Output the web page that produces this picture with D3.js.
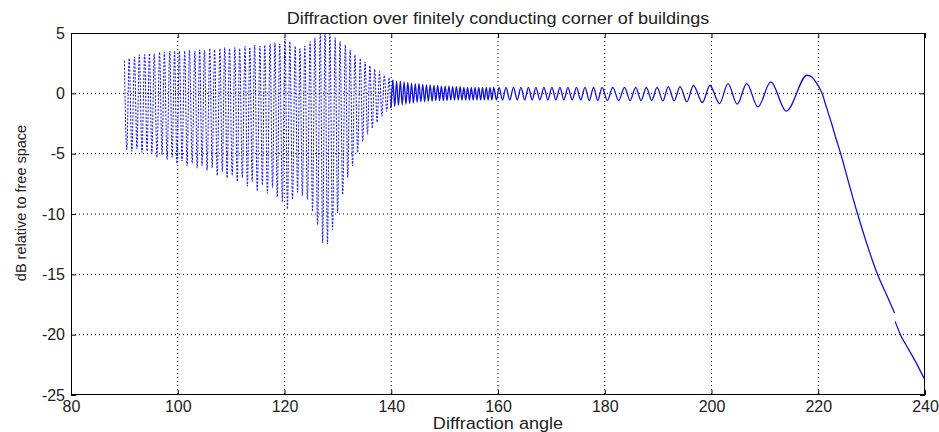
<!DOCTYPE html>
<html><head><meta charset="utf-8">
<script src="https://cdn.jsdelivr.net/npm/d3@7"></script>
<style>body{margin:0;background:#fff}</style>
</head><body><svg id="c" width="939" height="432"></svg>
<script>
// ---- data ----
const peakAngle = [90.0,90.9,91.9,92.8,93.8,94.7,95.6,96.6,97.5,98.5,99.4,100.3,101.3,102.2,103.2,104.1,105.0,106.0,106.9,107.9,108.8,109.7,110.7,111.6,112.6,113.5,114.4,115.4,116.3,117.3,118.2,119.1,120.1,121.0,122.0,122.9,123.8,124.8,125.7,126.7,127.6,128.5,129.5,130.4,131.4,132.3,133.2,134.2,135.1,136.0,136.9,137.8,138.7,139.6,
  140.3,141.0,141.7,142.4,143.1,143.8,144.5,145.2,145.9,146.6,147.3,148.0,148.7,149.4,150.1,150.8,151.5,152.2,152.9,153.6,154.3,155.0,155.7,156.4,157.1,157.8,158.5,159.2,
  160.2,161.5,162.9,164.3,165.7,167.1,168.6,170.1,171.6,173.1,174.7,176.3,177.9,179.5,181.5,183.7,185.8,187.8,189.8,191.9,194.1,196.6,199.7,203.1,206.6,211.1,217.9];
const peakDb = [2.7,2.9,3.0,3.2,3.2,3.3,3.3,3.4,3.4,3.5,3.5,3.5,3.5,3.6,3.5,3.6,3.6,3.7,3.6,3.7,3.8,3.7,3.8,3.7,3.9,3.8,4.0,3.9,4.0,4.1,4.2,4.1,4.5,4.3,3.9,3.7,3.9,4.3,4.6,4.9,5.0,4.9,4.6,4.3,4.0,3.6,3.2,2.9,2.6,2.3,2.0,1.8,1.5,1.3,
  1.1,1.0,1.0,0.95,0.9,0.85,0.8,0.8,0.75,0.7,0.7,0.65,0.65,0.6,0.6,0.6,0.55,0.55,0.55,0.5,0.5,0.5,0.5,0.5,0.5,0.5,0.5,0.5,
  0.5,0.5,0.5,0.5,0.5,0.5,0.5,0.5,0.5,0.5,0.5,0.5,0.5,0.5,0.5,0.5,0.5,0.5,0.5,0.55,0.55,0.65,0.65,0.8,0.8,0.95,1.5];
const troughAngle = [90.45,91.4,92.35,93.3,94.25,95.15,96.1,97.05,98.0,98.95,99.85,100.8,101.75,102.7,103.65,104.55,105.5,106.45,107.4,108.35,109.25,110.2,111.15,112.1,113.05,113.95,114.9,115.85,116.8,117.75,118.65,119.6,120.55,121.5,122.45,123.35,124.3,125.25,126.2,127.15,128.05,129.0,129.95,130.9,131.85,132.75,133.7,134.65,135.55,136.45,137.35,138.25,139.15,139.95,
  140.65,141.35,142.05,142.75,143.45,144.15,144.85,145.55,146.25,146.95,147.65,148.35,149.05,149.75,150.45,151.15,151.85,152.55,153.25,153.95,154.65,155.35,156.05,156.75,157.45,158.15,158.85,159.7,
  160.85,162.2,163.6,165.0,166.4,167.85,169.35,170.85,172.35,173.9,175.5,177.1,178.7,180.5,182.6,184.75,186.8,188.8,190.9,193.0,195.4,198.3,201.5,204.8,208.7,214.0];
const troughDb = [-4.7,-4.8,-4.6,-4.9,-4.8,-5.0,-5.3,-5.1,-5.5,-5.3,-5.8,-5.6,-6.0,-5.8,-6.2,-6.0,-6.4,-6.2,-6.8,-6.5,-7.0,-6.8,-7.3,-7.0,-7.7,-7.3,-8.1,-7.6,-8.3,-7.8,-8.6,-9.0,-9.6,-8.8,-8.2,-8.5,-8.8,-9.8,-10.9,-12.4,-12.5,-11.3,-9.9,-8.4,-7.0,-6.0,-4.9,-4.0,-3.4,-2.9,-2.4,-1.9,-1.5,-1.2,
  -1.1,-1.0,-0.95,-0.9,-0.85,-0.8,-0.75,-0.7,-0.7,-0.65,-0.65,-0.6,-0.6,-0.6,-0.6,-0.55,-0.55,-0.55,-0.55,-0.55,-0.55,-0.55,-0.55,-0.55,-0.55,-0.55,-0.55,-0.55,
  -0.55,-0.55,-0.55,-0.55,-0.55,-0.55,-0.55,-0.55,-0.55,-0.55,-0.55,-0.6,-0.6,-0.6,-0.6,-0.6,-0.6,-0.6,-0.62,-0.62,-0.7,-0.76,-0.85,-0.9,-1.13,-1.47];
const tailAngle = [218.8,219.6,220.7,221.5,222.5,223.3,224.2,225.7,227.3,229.2,231.1,232.8,234.3];
const tailDb = [1.35,0.9,0.0,-1.1,-2.5,-3.7,-5.0,-7.4,-9.9,-12.6,-15.0,-16.7,-18.2];
const tail2Angle = [234.4,235.4,236.9,238.3,239.8];
const tail2Db = [-18.9,-20.0,-21.2,-22.3,-23.6];
const xTickValues = [80,100,120,140,160,180,200,220,240];
const yTickValues = [-25,-20,-15,-10,-5,0,5];
const titleText = "Diffraction over finitely conducting corner of buildings";
const xLabelText = "Diffraction angle";
const yLabelText = "dB relative to free space";

// ---- layout ----
const W = 939, H = 432, m = {l:71, r:14, t:33, b:37};
const FONT = "'Liberation Sans', Arial, sans-serif";
const FS = 16, SX = 1.13;
const svg = d3.select("#c");
const x = d3.scaleLinear().domain([80,240]).range([m.l, W - m.r]);
const y = d3.scaleLinear().domain([-25,5]).range([H - m.b, m.t]);
const fmt = d => String(d);

// grid
const g = svg.append("g");
g.selectAll("line.vx").data(xTickValues.slice(1,-1)).join("line")
  .attr("x1", d => x(d)).attr("x2", d => x(d)).attr("y1", m.t).attr("y2", H - m.b)
  .attr("stroke", "#000").attr("stroke-width", 1).attr("stroke-dasharray", "1,3");
g.selectAll("line.hy").data(yTickValues.slice(1,-1)).join("line")
  .attr("y1", d => y(d)).attr("y2", d => y(d)).attr("x1", m.l).attr("x2", W - m.r)
  .attr("stroke", "#000").attr("stroke-width", 1).attr("stroke-dasharray", "1,3");

// data
const pts = peakAngle.map((a,i) => [a, peakDb[i]])
  .concat(troughAngle.map((a,i) => [a, troughDb[i]]))
  .concat(tailAngle.map((a,i) => [a, tailDb[i]]))
  .sort((p,q) => p[0] - q[0]);
const pts2 = tail2Angle.map((a,i) => [a, tail2Db[i]]);
const line = d3.line().x(d => x(d[0])).y(d => y(d[1])).curve(d3.curveMonotoneX);
const dense = pts.filter(p => p[0] <= 140.3);
const smooth = pts.filter(p => p[0] >= 139.95);
svg.append("clipPath").attr("id","pc").append("rect")
  .attr("x", m.l).attr("y", m.t - 1).attr("width", W - m.l - m.r).attr("height", H - m.t - m.b + 1);
const lg = svg.append("g").attr("clip-path", "url(#pc)");
lg.append("path").attr("d", line(dense)).attr("fill","none").attr("stroke","#0a0aff")
  .attr("stroke-width", 1).attr("stroke-dasharray", "2,1.5");
lg.append("path").attr("d", line(smooth)).attr("fill","none").attr("stroke","#1010e0").attr("stroke-width", 1.3);
lg.append("path").attr("d", line(pts2)).attr("fill","none").attr("stroke","#1010e0").attr("stroke-width", 1.3);

// axes
const styleAxis = sel => { sel.select(".domain").remove(); sel.selectAll("line").attr("stroke","#000");
  sel.selectAll("text").attr("font-family", FONT).attr("font-size", FS).attr("fill","#222"); };
svg.append("g").attr("transform", `translate(0,${H - m.b})`)
  .call(d3.axisBottom(x).tickValues(xTickValues).tickSizeInner(-5).tickSizeOuter(0).tickPadding(6).tickFormat(fmt)).call(styleAxis);
svg.append("g").attr("transform", `translate(0,${m.t})`)
  .call(d3.axisTop(x).tickValues(xTickValues).tickSizeInner(-5).tickSizeOuter(0).tickFormat("")).call(styleAxis);
svg.append("g").attr("transform", `translate(${m.l},0)`)
  .call(d3.axisLeft(y).tickValues(yTickValues).tickSizeInner(-5).tickSizeOuter(0).tickPadding(6).tickFormat(fmt)).call(styleAxis);
svg.append("g").attr("transform", `translate(${W - m.r},0)`)
  .call(d3.axisRight(y).tickValues(yTickValues).tickSizeInner(-5).tickSizeOuter(0).tickFormat("")).call(styleAxis);
svg.append("rect").attr("x", m.l + 0.5).attr("y", m.t + 0.5).attr("width", W - m.l - m.r - 1).attr("height", H - m.t - m.b - 1)
  .attr("fill","none").attr("stroke","#000").attr("stroke-width",1);

// labels
svg.append("text").attr("transform", `translate(${(m.l + W - m.r)/2},24) scale(${SX},1)`).attr("text-anchor","middle")
  .attr("font-family", FONT).attr("font-size", FS).attr("fill","#222").text(titleText);
svg.append("text").attr("transform", `translate(${(m.l + W - m.r)/2},429) scale(${SX},1)`).attr("text-anchor","middle")
  .attr("font-family", FONT).attr("font-size", FS).attr("fill","#222").text(xLabelText);
svg.append("text").attr("transform", "translate(26,203) rotate(-90)").attr("text-anchor","middle")
  .attr("font-family", FONT).attr("font-size", 14.5).attr("fill","#222").text(yLabelText);
</script>
</body></html>
